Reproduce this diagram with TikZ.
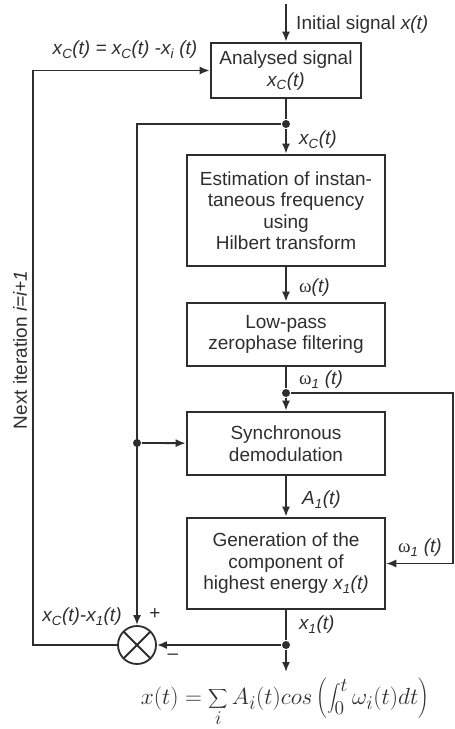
\documentclass[tikz,border=0pt]{standalone}
\usepackage{fontspec}
\setmainfont{Liberation Sans}
\newfontfamily\serf{Liberation Serif}
\usetikzlibrary{arrows.meta}
\definecolor{ink}{HTML}{2E2E2E}
\newcommand{\om}{{\upshape\serf ω}}

\begin{document}
\begin{tikzpicture}[x=1pt, y=-1pt, line width=1.8pt, draw=ink,
    every node/.style={font=\fontsize{19}{21.5}\selectfont, text=ink},
    blk/.style={draw, line width=2.6pt, align=center, inner sep=0pt},
    jn/.style={circle, fill=ink, inner sep=0pt, minimum size=8pt},
    mix/.style={circle, draw, minimum size=38pt, inner sep=0pt, path picture={
        \draw (path picture bounding box.north west) -- (path picture bounding box.south east);
        \draw (path picture bounding box.north east) -- (path picture bounding box.south west);}},
    >={Latex[length=10pt,width=8pt]}]
    \useasboundingbox (0,0) rectangle (455,729);
    \node[blk, minimum width=150, minimum height=55] (ana) at (286,70.5) {Analysed signal\\\textit{x\textsubscript{C}(t)}};
    \node[blk, minimum width=198, minimum height=111] (est) at (286,210.5) {Estimation of instan-\\taneous frequency\\using\\Hilbert transform};
    \node[blk, minimum width=198, minimum height=63] (low) at (286,334.5) {Low-pass\\zerophase filtering};
    \node[blk, minimum width=198, minimum height=63] (syn) at (286,443.5) {Synchronous\\demodulation};
    \node[blk, minimum width=198, minimum height=91] (gen) at (286,563.5) {Generation of the\\component of\\highest energy \textit{x\textsubscript{1}(t)}};
    \node[jn] (d1) at (286,124) {};
    \node[jn] (d2) at (286,393) {};
    \node[jn] (d3) at (137,443) {};
    \node[jn] (d4) at (286,645) {};
    \node[mix] (sum) at (137,645) {};
    \coordinate (in) at (286,4);
    \coordinate (rt) at (453,393);
    \coordinate (lf) at (33,645);
    \coordinate (out) at (286,672);
        \draw[->] (in) -- (ana);
        \draw (ana) -- (d1);
        \draw[->] (d1) -- (est);
        \draw[->] (est) -- (low);
        \draw (low) -- (d2);
        \draw[->] (d2) -- (syn);
        \draw[->] (syn) -- (gen);
        \draw (gen) -- (d4);
        \draw[->] (d4) -- (out);
        \draw[->] (d4) -- (sum);
        \draw[->] (d1) -| (sum);
        \draw[->] (d3) -- (syn);
        \draw[->, line width=1.3pt] (d2) -- (rt) |- (gen);
        \draw[->] (sum) -- (lf) |- (ana);
    \node[anchor=west] (l0) at (292,25) {Initial signal \textit{x(t)}};
    \node (l1) at (125,50) {\textit{x\textsubscript{C}(t) = x\textsubscript{C}(t) -x\textsubscript{i} (t)}};
    \node[anchor=west] (l2) at (295,140) {\textit{x\textsubscript{C}(t)}};
    \node[anchor=west] (l3) at (295,288) {\om\textit{(t)}};
    \node[anchor=west] (l4) at (295,380) {\om\textit{\textsubscript{1} (t)}};
    \node[anchor=west] (l5) at (298,500) {\textit{A\textsubscript{1}(t)}};
    \node[anchor=west] (l6) at (295,625) {\textit{x\textsubscript{1}(t)}};
    \node (l7) at (420,548) {\om\textit{\textsubscript{1} (t)}};
    \node (l8) at (82,617) {\textit{x\textsubscript{C}(t)-x\textsubscript{1}(t)}};
    \node (l9) at (155,614) {+};
    \node (l10) at (173,657) {–};
    \node[rotate=90] (l11) at (20,350) {Next iteration \textit{i=i+1}};
    \node (f) at (285,702) {\scalebox{1.35}{$\displaystyle x(t)=\sum_i A_i(t)cos\left(\int_0^t\omega_i(t)dt\right)$}};
\end{tikzpicture}
\end{document}
